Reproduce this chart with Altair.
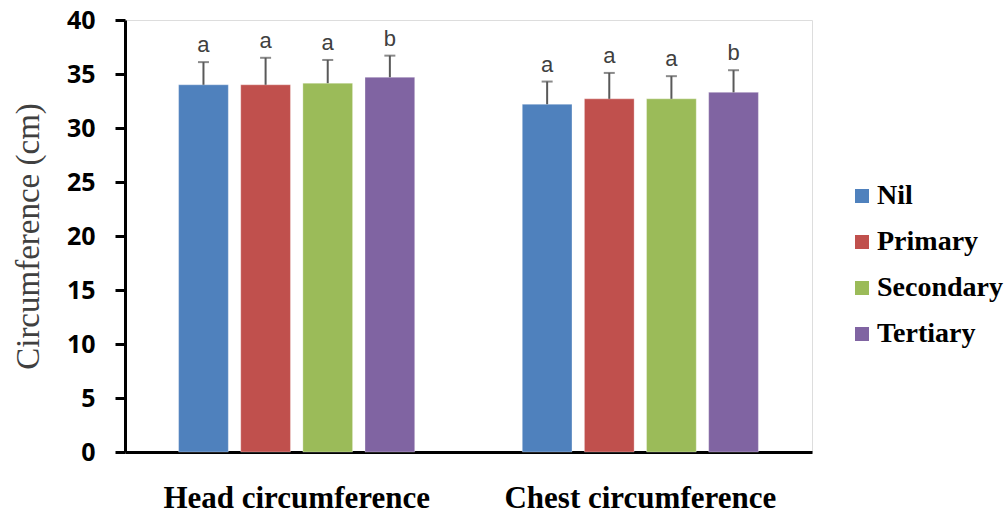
import altair as alt
import pandas as pd

groups = ["Head circumference", "Chest circumference"]
levels = ["Nil", "Primary", "Secondary", "Tertiary"]
head_means = [34.0, 34.0, 34.15, 34.7]
chest_means = [32.2, 32.7, 32.7, 33.3]
head_err = [2.1, 2.5, 2.15, 2.0]
chest_err = [2.1, 2.4, 2.1, 2.05]
head_letters = ["a", "a", "a", "b"]
chest_letters = ["a", "a", "a", "b"]
colors = ["#4F81BD", "#C0504D", "#9BBB59", "#8064A2"]

rows = []
for g, means, errs, lets in [
    (groups[0], head_means, head_err, head_letters),
    (groups[1], chest_means, chest_err, chest_letters),
]:
    for lv, m, e, l in zip(levels, means, errs, lets):
        rows.append({"group": g, "level": lv, "mean": m, "top": m + e, "letter": l})
df = pd.DataFrame(rows)

x = alt.X("group:N", sort=groups, title=None,
          scale=alt.Scale(paddingInner=0.313, paddingOuter=0.156),
          axis=alt.Axis(labelAngle=0, labelFont="Liberation Serif", labelFontWeight="bold",
                        labelFontSize=31, labelColor="black", labelPadding=31, labelLimit=0,
                        ticks=False, domainColor="black", domainWidth=3))
xo = alt.XOffset("level:N", sort=levels, scale=alt.Scale(paddingInner=0.2, paddingOuter=0))

base = alt.Chart(df).encode(x=x, xOffset=xo)

bars = base.mark_bar(stroke="white", strokeWidth=0.5, strokeOpacity=0.6).encode(
    y=alt.Y("mean:Q", scale=alt.Scale(domain=[0, 40]),
            title="Circumference (cm)",
            axis=alt.Axis(values=list(range(0, 41, 5)), grid=False,
                          labelFont="Open Sans", labelFontWeight="bold", labelFontSize=25,
                          labelColor="black", labelPadding=20,
                          tickSize=10, tickWidth=3, tickColor="black",
                          domainColor="black", domainWidth=3,
                          titleFont="Liberation Serif", titleFontSize=33,
                          titleFontWeight="normal", titleColor="#404040", titlePadding=21)),
    color=alt.Color("level:N", sort=levels,
                    scale=alt.Scale(domain=levels, range=colors),
                    legend=alt.Legend(title=None, orient="none", legendX=723, legendY=162,
                                      symbolType="square", symbolSize=196, symbolStrokeWidth=0,
                                      labelFont="Liberation Serif", labelFontWeight="bold",
                                      labelFontSize=28, labelColor="black", labelOffset=1,
                                      rowPadding=18)),
)

errs = base.mark_rule(color="#595959", strokeWidth=2).encode(
    y="mean:Q", y2="top:Q")
caps = base.mark_tick(color="#595959", orient="horizontal", size=11, thickness=2).encode(
    y="top:Q")
letters = base.mark_text(font="Liberation Sans", fontSize=22, color="#404040",
                         baseline="alphabetic", dy=-10).encode(
    y="top:Q", text="letter:N")

chart = alt.layer(bars, errs, caps, letters).properties(
    width=687, height=432,
    autosize=alt.AutoSizeParams(type="none"),
    padding={"left": 125, "top": 20, "right": 192, "bottom": 65},
).configure_view(strokeWidth=0).configure(background="white")

chart.save("out.html", embed_options={"renderer": "svg", "actions": False})
